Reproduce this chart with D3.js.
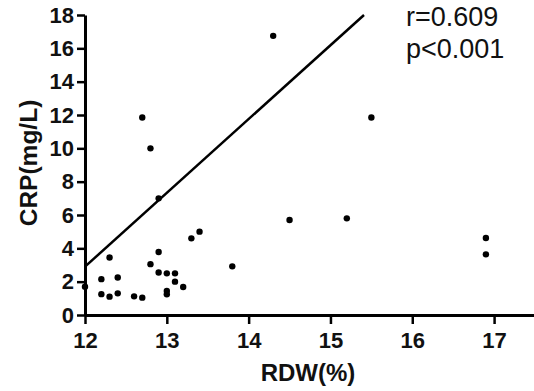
<!DOCTYPE html>
<html>
<head>
<meta charset="utf-8">
<script src="https://cdn.jsdelivr.net/npm/d3@7"></script>
<style>
  body { margin: 0; background: #fff; }
  svg { display: block; }
</style>
</head>
<body>
<div id="vis"></div>
<script>
// RDW vs CRP
const rdw = [12.0, 12.2, 12.2, 12.3, 12.3, 12.4, 12.4, 12.6, 12.7, 12.7, 12.8, 12.8,
  12.9, 12.9, 12.9, 13.0, 13.0, 13.0, 13.1, 13.1, 13.2, 13.3, 13.4, 13.8,
  14.3, 14.5, 15.2, 15.5, 16.9, 16.9];
const crp = [1.7, 2.15, 1.25, 3.45, 1.1, 2.25, 1.3, 1.12, 1.04, 11.85, 3.05, 10.0,
  7.0, 3.78, 2.55, 2.5, 1.44, 1.24, 2.5, 2.0, 1.68, 4.6, 5.0, 2.92,
  16.75, 5.7, 5.8, 11.85, 4.62, 3.64];

// regression line end points
const fitX = [12, 15.41];
const fitY = [2.9, 18];

const xTicks = [12, 13, 14, 15, 16, 17];
const yTicks = [0, 2, 4, 6, 8, 10, 12, 14, 16, 18];

const statLines = ["r=0.609", "p<0.001"];

const WIDTH = 534;
const HEIGHT = 391;

const SVG = d3.select("#vis").append("svg")
  .attr("width", WIDTH)
  .attr("height", HEIGHT);

const escalaX = d3.scaleLinear().domain([12, 17.5]).range([85, 535]);
const escalaY = d3.scaleLinear().domain([0, 18]).range([315, 15]);

const font = "Liberation Sans, Arial, sans-serif";

// eje Y
const ejeY = SVG.append("g")
  .attr("transform", `translate(${escalaX(12)}, 0)`)
  .call(d3.axisLeft(escalaY).tickValues(yTicks).tickFormat(d3.format("d"))
    .tickSize(8).tickPadding(3).tickSizeOuter(0));

// eje X
const ejeX = SVG.append("g")
  .attr("transform", `translate(0, ${escalaY(0)})`)
  .call(d3.axisBottom(escalaX).tickValues(xTicks).tickFormat(d3.format("d"))
    .tickSize(9).tickPadding(8).tickSizeOuter(0));

[ejeX, ejeY].forEach(eje => {
  eje.select(".domain").attr("stroke", "#000").attr("stroke-width", 3);
  eje.selectAll(".tick line").attr("stroke", "#000").attr("stroke-width", 2.5);
  eje.selectAll(".tick text")
    .attr("fill", "#111")
    .style("font-family", font)
    .style("font-weight", "bold")
    .style("font-size", "22px");
});

// linea de regresion
SVG.append("line")
  .attr("x1", escalaX(fitX[0]))
  .attr("y1", escalaY(fitY[0]))
  .attr("x2", escalaX(fitX[1]))
  .attr("y2", escalaY(fitY[1]))
  .attr("stroke", "#000")
  .attr("stroke-width", 2.5);

// puntos
SVG.append("g")
  .selectAll("circle")
  .data(rdw.map((d, i) => ({ x: d, y: crp[i] })))
  .join("circle")
  .attr("cx", d => escalaX(d.x))
  .attr("cy", d => escalaY(d.y))
  .attr("r", 3.2)
  .attr("fill", "#000");

// titulos
SVG.append("text")
  .attr("x", 308)
  .attr("y", 381)
  .attr("text-anchor", "middle")
  .style("font-family", font)
  .style("font-weight", "bold")
  .style("font-size", "24px")
  .attr("fill", "#111")
  .text("RDW(%)");

SVG.append("text")
  .attr("transform", "translate(37, 163) rotate(-90)")
  .attr("text-anchor", "middle")
  .style("font-family", font)
  .style("font-weight", "bold")
  .style("font-size", "24.5px")
  .attr("fill", "#111")
  .text("CRP(mg/L)");

SVG.append("g")
  .selectAll("text")
  .data(statLines)
  .join("text")
  .attr("x", 406)
  .attr("y", (d, i) => 26 + i * 32)
  .style("font-family", font)
  .style("font-size", "27px")
  .attr("fill", "#111")
  .text(d => d);
</script>
</body>
</html>
